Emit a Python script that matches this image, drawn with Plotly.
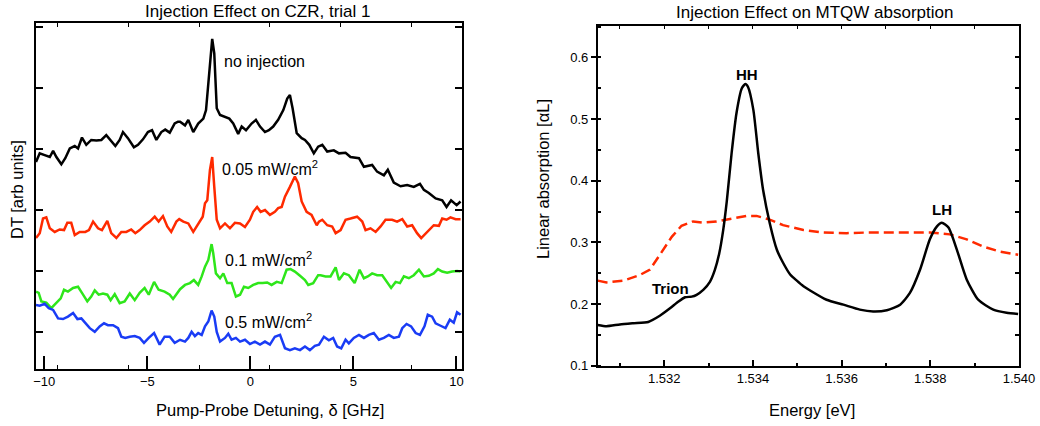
import plotly.graph_objects as go

# ---------------- Left panel: DT vs pump-probe detuning ----------------
det_black = [-10.40, -10.22, -9.98, -9.73, -9.57, -9.41, -9.17, -8.98, -8.76, -8.52, -8.36, -8.17,
             -7.96, -7.72, -7.47, -7.23, -6.99, -6.78, -6.55, -6.34, -6.18, -5.94, -5.65, -5.45,
             -5.21, -4.97, -4.77, -4.56, -4.32, -4.13, -3.91, -3.67, -3.51, -3.41, -3.17, -3.01,
             -2.77, -2.53, -2.28, -2.15, -1.99, -1.85, -1.75, -1.63, -1.47, -1.23, -1.02, -0.83,
             -0.59, -0.42, -0.21, 0.06, 0.27, 0.47, 0.71, 0.90, 1.11, 1.35, 1.60, 1.79, 1.92,
             2.05, 2.25, 2.49, 2.65, 2.86, 3.08, 3.29, 3.49, 3.73, 4.05, 4.30, 4.62, 4.86, 5.27,
             5.51, 5.91, 6.15, 6.48, 6.67, 6.96, 7.29, 7.61, 7.93, 8.23, 8.42, 8.66, 8.99, 9.31,
             9.52, 9.74, 10.01, 10.20]
dt_black = [3.79, 3.93, 3.90, 3.87, 3.97, 3.87, 3.75, 3.85, 4.01, 4.05, 4.01, 4.19,
            4.07, 4.15, 4.14, 4.15, 4.23, 4.15, 4.05, 4.15, 4.28, 4.18, 4.03, 4.07,
            4.16, 4.28, 4.31, 4.15, 4.28, 4.32, 4.27, 4.42, 4.45, 4.45, 4.39, 4.48,
            4.28, 4.42, 4.50, 4.64, 5.30, 5.81, 5.57, 4.67, 4.56, 4.53, 4.50, 4.42,
            4.25, 4.37, 4.31, 4.42, 4.48, 4.37, 4.28, 4.31, 4.37, 4.48, 4.64, 4.83, 4.89,
            4.67, 4.26, 4.18, 4.15, 4.07, 3.93, 4.04, 4.07, 3.96, 3.98, 3.93, 3.94, 3.87, 3.85,
            3.71, 3.74, 3.63, 3.57, 3.66, 3.45, 3.39, 3.41, 3.38, 3.43, 3.33, 3.28, 3.19, 3.16,
            3.05, 3.16, 3.08, 3.14]

det_red = [-10.40, -10.22, -10.06, -9.90, -9.73, -9.49, -9.25, -9.04, -8.88, -8.69, -8.52, -8.28,
           -8.01, -7.83, -7.63, -7.39, -7.20, -6.94, -6.75, -6.50, -6.26, -6.02, -5.78, -5.58,
           -5.37, -5.13, -4.88, -4.64, -4.45, -4.24, -4.03, -3.84, -3.59, -3.45, -3.25, -3.01,
           -2.77, -2.53, -2.31, -2.20, -2.09, -1.96, -1.85, -1.75, -1.63, -1.47, -1.23, -0.99,
           -0.75, -0.50, -0.26, -0.02, 0.14, 0.33, 0.50, 0.71, 0.95, 1.19, 1.35, 1.52, 1.68,
           1.92, 2.16, 2.32, 2.49, 2.73, 2.97, 3.22, 3.33, 3.49, 3.73, 3.97, 4.14, 4.38, 4.62,
           4.86, 5.18, 5.43, 5.59, 5.83, 6.08, 6.32, 6.56, 6.88, 7.12, 7.37, 7.61, 7.85, 8.09,
           8.29, 8.58, 8.90, 9.15, 9.31, 9.52, 9.71, 9.96, 10.20]
dt_red = [2.54, 2.62, 2.86, 2.88, 2.70, 2.64, 2.68, 2.67, 2.79, 2.79, 2.59, 2.64,
          2.64, 2.67, 2.81, 2.70, 2.67, 2.82, 2.62, 2.54, 2.64, 2.64, 2.68, 2.62,
          2.67, 2.75, 2.81, 2.89, 2.81, 2.90, 2.73, 2.64, 2.81, 2.85, 2.81, 2.78,
          2.64, 2.78, 2.89, 3.11, 3.16, 3.66, 3.87, 3.38, 2.84, 2.70, 2.78, 2.70,
          2.79, 2.78, 2.72, 2.84, 2.97, 3.05, 2.97, 3.00, 2.92, 2.97, 3.03, 3.05, 3.22,
          3.38, 3.55, 3.44, 3.14, 2.97, 2.92, 2.75, 2.81, 2.84, 2.75, 2.73, 2.62, 2.67, 2.84,
          2.86, 2.89, 2.81, 2.67, 2.70, 2.64, 2.73, 2.84, 2.84, 2.81, 2.85, 2.73, 2.75, 2.62,
          2.54, 2.64, 2.75, 2.74, 2.86, 2.84, 2.88, 2.85, 2.85]

det_green = [-10.40, -10.27, -10.14, -9.90, -9.66, -9.41, -9.20, -9.04, -8.85, -8.60, -8.36, -8.17,
             -7.91, -7.72, -7.55, -7.36, -7.15, -6.94, -6.78, -6.58, -6.34, -6.10, -5.85, -5.61,
             -5.37, -5.13, -4.93, -4.67, -4.45, -4.16, -3.91, -3.75, -3.59, -3.41, -3.17, -2.93,
             -2.74, -2.53, -2.36, -2.20, -2.04, -1.88, -1.80, -1.67, -1.47, -1.31, -1.12, -0.91,
             -0.70, -0.50, -0.31, -0.10, 0.14, 0.38, 0.60, 0.82, 1.03, 1.28, 1.52, 1.76, 1.95,
             2.16, 2.41, 2.65, 2.81, 3.05, 3.29, 3.41, 3.65, 3.89, 4.14, 4.30, 4.54, 4.78, 5.06,
             5.30, 5.51, 5.70, 5.91, 6.15, 6.40, 6.64, 6.83, 7.05, 7.26, 7.45, 7.69, 7.93, 8.18,
             8.42, 8.66, 8.90, 9.10, 9.31, 9.55, 9.79, 10.03, 10.20]
dt_green = [1.66, 1.64, 1.50, 1.48, 1.39, 1.47, 1.55, 1.69, 1.66, 1.72, 1.74, 1.64,
            1.50, 1.58, 1.68, 1.61, 1.63, 1.61, 1.52, 1.62, 1.47, 1.50, 1.63, 1.52,
            1.64, 1.72, 1.61, 1.82, 1.69, 1.66, 1.61, 1.54, 1.61, 1.70, 1.77, 1.80,
            1.85, 1.77, 1.91, 2.07, 2.18, 2.44, 2.29, 1.96, 1.88, 1.96, 1.80, 1.80,
            1.58, 1.61, 1.74, 1.72, 1.77, 1.80, 1.80, 1.81, 1.77, 1.82, 1.80, 2.02, 2.03,
            1.99, 1.92, 1.85, 1.77, 1.80, 1.93, 1.93, 1.91, 1.91, 2.06, 1.85, 1.96, 1.93, 1.80,
            2.02, 1.88, 1.91, 1.96, 1.93, 1.93, 1.82, 1.72, 1.82, 1.80, 1.91, 1.88, 1.93, 2.02,
            1.91, 1.92, 1.96, 2.03, 1.99, 1.97, 1.99, 2.00, 1.99]

det_blue = [-10.40, -10.22, -9.98, -9.78, -9.57, -9.33, -9.09, -8.85, -8.60, -8.39, -8.20, -8.01,
            -7.79, -7.55, -7.31, -7.10, -6.91, -6.66, -6.42, -6.26, -6.07, -5.85, -5.61, -5.37,
            -5.16, -4.93, -4.67, -4.40, -4.16, -3.91, -3.67, -3.41, -3.17, -3.01, -2.85, -2.69,
            -2.53, -2.36, -2.20, -2.04, -1.88, -1.75, -1.63, -1.47, -1.23, -1.07, -0.91, -0.70,
            -0.50, -0.26, -0.02, 0.22, 0.47, 0.71, 0.95, 1.19, 1.44, 1.68, 1.92, 2.16, 2.41,
            2.65, 2.89, 3.13, 3.33, 3.57, 3.81, 4.02, 4.21, 4.41, 4.62, 4.78, 5.02, 5.27, 5.51,
            5.75, 5.99, 6.24, 6.48, 6.72, 6.96, 7.21, 7.37, 7.58, 7.80, 8.02, 8.23, 8.45, 8.61,
            8.82, 8.99, 9.23, 9.47, 9.68, 9.87, 10.03, 10.20]
dt_blue = [1.44, 1.43, 1.46, 1.39, 1.36, 1.22, 1.21, 1.25, 1.31, 1.21, 1.22, 1.14,
           1.06, 1.00, 1.09, 1.14, 1.11, 1.11, 1.06, 0.92, 0.90, 0.92, 0.93, 0.90,
           0.82, 0.90, 0.98, 0.79, 0.92, 0.92, 0.82, 0.87, 0.84, 0.90, 1.00, 0.93,
           0.98, 0.95, 1.09, 1.17, 1.35, 1.25, 1.00, 0.84, 0.90, 0.97, 0.87, 0.90,
           0.84, 0.87, 0.80, 0.84, 0.79, 0.84, 0.79, 0.92, 0.95, 0.73, 0.70, 0.73, 0.70,
           0.76, 0.70, 0.77, 0.79, 0.92, 0.86, 0.90, 0.76, 0.73, 0.87, 0.81, 0.90, 0.95, 0.90,
           0.95, 0.98, 0.87, 0.90, 0.95, 0.90, 0.92, 1.06, 1.13, 1.09, 0.98, 0.95, 1.09, 1.28,
           1.25, 1.14, 1.10, 1.06, 1.20, 1.15, 1.32, 1.28]

curve_labels = ["no injection", "0.05 mW/cm<sup>2</sup>", "0.1 mW/cm<sup>2</sup>", "0.5 mW/cm<sup>2</sup>"]
label_x = [-1.39, -1.47, -1.34, -1.34]
label_y = [5.43, 3.69, 2.19, 1.18]

det_ticks = [-10, -5, 0, 5, 10]
det_odd_ticks = [-9.35, -5.92, -2.48, 0.95, 4.36, 7.84]
dt_ticks = [1, 2, 3, 4, 5, 6]

# ---------------- Right panel: linear absorption vs energy ----------------
energy_black = [1.5305, 1.5307, 1.5310, 1.5313, 1.53164, 1.53190, 1.53213, 1.53232, 1.53247, 1.53262,
                1.53273, 1.53288, 1.53303, 1.53314, 1.53324, 1.53333, 1.53341, 1.53352, 1.53363,
                1.53375, 1.53383, 1.53389, 1.53401, 1.53412, 1.53423, 1.53438, 1.53454, 1.53468,
                1.53484, 1.53499, 1.53514, 1.53529, 1.53566, 1.53604, 1.53641, 1.53671, 1.53702,
                1.53732, 1.53754, 1.53777, 1.53799, 1.53815, 1.53826, 1.53841, 1.53860, 1.53882,
                1.53908, 1.53942, 1.53972, 1.53998]
absorb_black = [0.166, 0.164, 0.167, 0.169, 0.171, 0.181, 0.193, 0.204, 0.211, 0.212,
                0.215, 0.223, 0.236, 0.255, 0.282, 0.320, 0.366, 0.445, 0.510,
                0.550, 0.557, 0.552, 0.515, 0.445, 0.385, 0.331, 0.288, 0.267,
                0.248, 0.238, 0.229, 0.222, 0.207, 0.199, 0.191, 0.188, 0.190,
                0.199, 0.218, 0.256, 0.305, 0.326, 0.332, 0.324, 0.288, 0.240,
                0.207, 0.191, 0.186, 0.184]

energy_red = [1.5305, 1.5307, 1.53108, 1.53145, 1.53168, 1.53190, 1.53217, 1.53239, 1.53265, 1.53288,
              1.53318, 1.53356, 1.53386, 1.53408, 1.53438, 1.53468, 1.53514, 1.53559, 1.53611,
              1.53657, 1.53709, 1.53762, 1.53799, 1.53844, 1.53882, 1.53920, 1.53957, 1.53998]
absorb_red = [0.238, 0.235, 0.238, 0.247, 0.256, 0.280, 0.309, 0.327, 0.334, 0.332,
              0.334, 0.339, 0.343, 0.343, 0.337, 0.328, 0.320, 0.316, 0.315,
              0.316, 0.316, 0.315, 0.316, 0.313, 0.305, 0.293, 0.285, 0.280]

peak_labels = ["HH", "LH", "Trion"]
peak_x = [1.53387, 1.53826, 1.53215]
peak_y = [0.572, 0.353, 0.226]

W, H = 1040, 426
FONT = "Arial, Liberation Sans, sans-serif"

fig = go.Figure()

for xs, ys, col in [(det_black, dt_black, "#000000"), (det_red, dt_red, "#ff2a00"),
                    (det_green, dt_green, "#2ee61a"), (det_blue, dt_blue, "#1a3cf5")]:
    fig.add_trace(go.Scatter(x=xs, y=ys, mode="lines", line=dict(color=col, width=2.5),
                             xaxis="x", yaxis="y", showlegend=False, hoverinfo="skip"))

fig.add_trace(go.Scatter(x=energy_red, y=absorb_red, mode="lines",
                         line=dict(color="#ff2a00", width=2.5, dash="10px,5px"),
                         xaxis="x2", yaxis="y2", showlegend=False, hoverinfo="skip"))
fig.add_trace(go.Scatter(x=energy_black, y=absorb_black, mode="lines",
                         line=dict(color="#000000", width=2.5, shape="spline", smoothing=0.6),
                         xaxis="x2", yaxis="y2", showlegend=False, hoverinfo="skip"))

# empty traces so that the overlay (tick-only) axes are drawn
fig.add_trace(go.Scatter(x=[], y=[], xaxis="x3", yaxis="y", showlegend=False))
fig.add_trace(go.Scatter(x=[], y=[], xaxis="x4", yaxis="y2", showlegend=False))
fig.add_trace(go.Scatter(x=[], y=[], xaxis="x2", yaxis="y4", showlegend=False))

left_dom = [36 / W, 462 / W]
left_ydom = [(H - 369) / H, (H - 23) / H]
right_dom = [597.7 / W, 1019 / W]
right_ydom = [(H - 365.7) / H, (H - 26) / H]

xr_left = [-10.4, 10.27]
yr_left = [0.39, 6.07]
xr_right = [1.5305, 1.540]
yr_right = [0.1, 0.651]

tickfont = dict(family=FONT, size=13, color="#000")

fig.update_layout(
    width=W, height=H,
    margin=dict(l=0, r=0, t=0, b=0, autoexpand=False),
    paper_bgcolor="white", plot_bgcolor="white",
    font=dict(family=FONT, color="#000", size=13),
    xaxis=dict(domain=left_dom, anchor="y", range=xr_left, tickvals=det_ticks,
               ticks="inside", ticklen=13, tickwidth=1.5, tickcolor="#000",
               showline=True, linecolor="#000", linewidth=1.5, mirror=True,
               showgrid=False, zeroline=False, tickfont=tickfont, automargin=False),
    xaxis3=dict(overlaying="x", anchor="y", range=xr_left, tickvals=det_odd_ticks,
                ticks="inside", ticklen=4, tickwidth=1, tickcolor="#000",
                showticklabels=False, showline=True, linecolor="#000", linewidth=1.5,
                mirror="ticks", showgrid=False, zeroline=False, automargin=False),
    yaxis=dict(domain=left_ydom, anchor="x", range=yr_left, tickvals=dt_ticks,
               ticks="inside", ticklen=7, tickwidth=1.5, tickcolor="#000",
               showticklabels=False, showline=True, linecolor="#000", linewidth=1.5,
               mirror="ticks", showgrid=False, zeroline=False, automargin=False),
    xaxis2=dict(domain=right_dom, anchor="y2", range=xr_right, tick0=1.532, dtick=0.002,
                tickformat=".3f", ticks="inside", ticklen=6, tickwidth=1.5, tickcolor="#000",
                minor=dict(dtick=0.001, ticks="inside", ticklen=3, tickwidth=1.5, tickcolor="#000"),
                showline=True, linecolor="#000", linewidth=1.5, mirror=True,
                showgrid=False, zeroline=False, tickfont=tickfont, automargin=False),
    xaxis4=dict(overlaying="x2", anchor="y2", side="top", range=xr_right, tick0=1.531, dtick=0.001,
                ticks="inside", ticklen=3, tickwidth=1, tickcolor="#000", showticklabels=False,
                showline=False, showgrid=False, zeroline=False, automargin=False),
    yaxis2=dict(domain=right_ydom, anchor="x2", range=yr_right, tick0=0.1, dtick=0.1,
                tickformat=".1f", ticks="outside", ticklen=5, tickwidth=1.5, tickcolor="#000",
                minor=dict(dtick=0.05, ticks="inside", ticklen=4, tickwidth=1.5, tickcolor="#000"),
                showline=True, linecolor="#000", linewidth=1.5, mirror=True,
                showgrid=False, zeroline=False, tickfont=tickfont, automargin=False),
    yaxis4=dict(overlaying="y2", anchor="x2", side="right", range=yr_right, tick0=0.1, dtick=0.05,
                ticks="inside", ticklen=4, tickwidth=1.5, tickcolor="#000", showticklabels=False,
                showline=False, showgrid=False, zeroline=False, automargin=False),
)

ann = []
paper_txt = [
    ("Injection Effect on CZR, trial 1", 258, 11, 0, 17),
    ("Injection Effect on MTQW absorption", 814, 12.5, 0, 17),
    ("Pump-Probe Detuning, \u03b4 [GHz]", 270, 410, 0, 16.5),
    ("Energy [eV]", 812, 410, 0, 16.5),
    ("DT [arb units]", 17, 190, -90, 16.5),
    ("Linear absorption [\u03b1L]", 543, 179, -90, 16.5),
]
for t, px, py, ang, fs in paper_txt:
    ann.append(dict(text=t, x=px / W, y=(H - py) / H, xref="paper", yref="paper",
                    xanchor="center", yanchor="middle", textangle=ang,
                    showarrow=False, font=dict(size=fs, family=FONT, color="#000")))

for t, xv, yv in zip(curve_labels, label_x, label_y):
    ann.append(dict(text=t, x=xv, y=yv, xref="x", yref="y", xanchor="left", yanchor="middle",
                    showarrow=False, font=dict(size=16, family=FONT, color="#000")))
for t, xv, yv in zip(peak_labels, peak_x, peak_y):
    ann.append(dict(text="<b>" + t + "</b>", x=xv, y=yv, xref="x2", yref="y2",
                    xanchor="center", yanchor="middle",
                    showarrow=False, font=dict(size=15, family=FONT, color="#000")))

fig.update_layout(annotations=ann)

fig.write_html("out.html", config={"displayModeBar": False},
               post_script="document.body.style.margin='0';document.body.style.padding='0';")
